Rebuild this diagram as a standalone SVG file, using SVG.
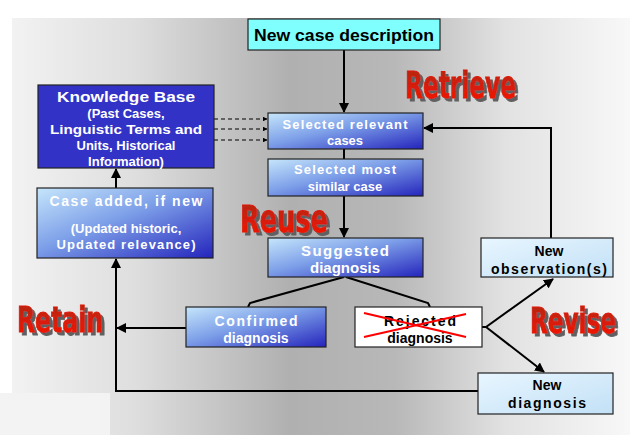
<svg xmlns="http://www.w3.org/2000/svg" width="636" height="435" viewBox="0 0 636 435">
<defs>
<linearGradient id="bg" x1="0" y1="0" x2="1" y2="0">
<stop offset="0" stop-color="#f2f2f2"/>
<stop offset="0.2" stop-color="#dedede"/>
<stop offset="0.45" stop-color="#b0b0b0"/>
<stop offset="0.62" stop-color="#b8b8b8"/>
<stop offset="0.8" stop-color="#e2e2e2"/>
<stop offset="1" stop-color="#f8f8f8"/>
</linearGradient>
<linearGradient id="blue" x1="0" y1="0" x2="1" y2="1">
<stop offset="0" stop-color="#c6e6fb"/>
<stop offset="0.45" stop-color="#7c9ee8"/>
<stop offset="1" stop-color="#2424bc"/>
</linearGradient>
<linearGradient id="light" x1="0" y1="0" x2="1" y2="1">
<stop offset="0" stop-color="#e8f6ff"/>
<stop offset="1" stop-color="#c2e0f6"/>
</linearGradient>
<linearGradient id="red" x1="0" y1="0" x2="0" y2="1">
<stop offset="0" stop-color="#a82a12"/>
<stop offset="1" stop-color="#ff1200"/>
</linearGradient>
<filter id="shadow" x="-10%" y="-20%" width="130%" height="150%">
<feOffset in="SourceAlpha" dx="3" dy="3" result="o"/>
<feFlood flood-color="#606060"/>
<feComposite in2="o" operator="in" result="s"/>
<feMerge><feMergeNode in="s"/><feMergeNode in="SourceGraphic"/></feMerge>
</filter>
<marker id="arr" viewBox="0 0 10 10" refX="9" refY="5" markerWidth="5" markerHeight="5" orient="auto">
<path d="M0,0 L10,5 L0,10 z" fill="#000"/>
</marker>
<marker id="arrs" viewBox="0 0 10 10" refX="9" refY="5" markerWidth="4" markerHeight="4" orient="auto">
<path d="M0,0 L10,5 L0,10 z" fill="#000"/>
</marker>
</defs>
<style>
.box{stroke:#222;stroke-width:1.2}
.wt{font-family:"Liberation Sans",Arial,sans-serif;font-weight:bold;fill:#fff;text-anchor:middle}
.bt{font-family:"Liberation Sans",Arial,sans-serif;font-weight:bold;fill:#000;text-anchor:middle}
.stage{font-family:"Liberation Sans Narrow","DejaVu Sans Condensed",sans-serif;font-weight:bold;fill:url(#red);stroke:#e01808;stroke-width:0.8;filter:url(#shadow)}
.con{fill:none;stroke:#000;stroke-width:2}
.dash{fill:none;stroke:#000;stroke-width:1.2;stroke-dasharray:4,3}
</style>
<rect x="0" y="0" width="636" height="435" fill="#fff"/>
<rect x="12" y="18" width="618" height="417" fill="url(#bg)"/>
<rect x="0" y="393" width="110" height="42" fill="#f3f3f3"/>

<g id="connectors">
<line class="con" x1="344" y1="50" x2="344" y2="112" marker-end="url(#arr)"/>
<line class="con" x1="344" y1="149" x2="344" y2="159"/>
<line class="con" x1="344" y1="196" x2="344" y2="237" marker-end="url(#arr)"/>
<line class="dash" x1="214" y1="119" x2="267" y2="119" marker-end="url(#arrs)"/>
<line class="dash" x1="214" y1="129" x2="267" y2="129" marker-end="url(#arrs)"/>
<line class="dash" x1="214" y1="140" x2="267" y2="140" marker-end="url(#arrs)"/>
<polyline class="con" points="344,277 250,303 248,307"/>
<polyline class="con" points="346,277 428,303 430,307"/>
<line class="con" x1="186" y1="328" x2="117" y2="328" marker-end="url(#arr)"/>
<polyline class="con" points="478,391 116,391 116,259" marker-end="url(#arr)"/>
<line class="con" x1="116" y1="188" x2="116" y2="169" marker-end="url(#arr)"/>
<polyline class="con" points="482,327 486,327 553,279" marker-end="url(#arr)"/>
<line class="con" x1="486" y1="327" x2="544" y2="372" marker-end="url(#arr)"/>
<polyline class="con" points="551,238 551,128 424,128" marker-end="url(#arr)"/>
</g>

<g id="new-case">
<rect class="box" x="248" y="19" width="192" height="31" fill="#80ffff"/>
<text class="bt" x="344" y="41" font-size="17" textLength="180" lengthAdjust="spacingAndGlyphs">New case description</text>
</g>

<g id="knowledge-base">
<rect class="box" x="38" y="85" width="176" height="83" fill="#3232c6"/>
<text class="wt" x="126" y="102" font-size="14" textLength="138" lengthAdjust="spacingAndGlyphs">Knowledge Base</text>
<text class="wt" x="126" y="118" font-size="13">(Past Cases,</text>
<text class="wt" x="126" y="134" font-size="13" textLength="152" lengthAdjust="spacingAndGlyphs">Linguistic Terms and</text>
<text class="wt" x="126" y="150" font-size="13">Units, Historical</text>
<text class="wt" x="126" y="166" font-size="13">Information)</text>
</g>

<g id="selected-relevant">
<rect class="box" x="268" y="113" width="155" height="36" fill="url(#blue)"/>
<text class="wt" x="345" y="129" font-size="13" textLength="125" lengthAdjust="spacing">Selected relevant</text>
<text class="wt" x="345" y="145" font-size="13">cases</text>
</g>

<g id="selected-most">
<rect class="box" x="268" y="159" width="155" height="37" fill="url(#blue)"/>
<text class="wt" x="345" y="174" font-size="13" textLength="102" lengthAdjust="spacing">Selected most</text>
<text class="wt" x="345" y="191" font-size="13">similar case</text>
</g>

<g id="suggested">
<rect class="box" x="268" y="238" width="155" height="39" fill="url(#blue)"/>
<text class="wt" x="345" y="256" font-size="15" textLength="88" lengthAdjust="spacing">Suggested</text>
<text class="wt" x="345" y="273" font-size="15">diagnosis</text>
</g>

<g id="case-added">
<rect class="box" x="37" y="188" width="176" height="70" fill="url(#blue)"/>
<text class="wt" x="126" y="206" font-size="14" textLength="153" lengthAdjust="spacing">Case added, if new</text>
<text class="wt" x="126" y="233" font-size="13">(Updated historic,</text>
<text class="wt" x="126" y="249" font-size="13" textLength="139" lengthAdjust="spacing">Updated relevance)</text>
</g>

<g id="confirmed">
<rect class="box" x="186" y="307" width="140" height="40" fill="url(#blue)"/>
<text class="wt" x="256" y="326" font-size="14" textLength="83" lengthAdjust="spacing">Confirmed</text>
<text class="wt" x="256" y="343" font-size="14">diagnosis</text>
</g>

<g id="rejected">
<rect class="box" x="355" y="307" width="127" height="40" fill="#fff"/>
<text class="bt" x="420" y="326" font-size="14" textLength="72" lengthAdjust="spacing">Rejected</text>
<text class="bt" x="420" y="343" font-size="14">diagnosis</text>
<line x1="364" y1="313" x2="466" y2="337" stroke="#ff0000" stroke-width="2"/>
<line x1="364" y1="337" x2="466" y2="314" stroke="#ff0000" stroke-width="2"/>
</g>

<g id="new-observation">
<rect class="box" x="481" y="238" width="132" height="39" fill="url(#light)"/>
<text class="bt" x="549" y="256" font-size="14">New</text>
<text class="bt" x="549" y="274" font-size="14" textLength="116" lengthAdjust="spacing">observation(s)</text>
</g>

<g id="new-diagnosis">
<rect class="box" x="478" y="373" width="135" height="41" fill="url(#light)"/>
<text class="bt" x="547" y="390" font-size="14">New</text>
<text class="bt" x="547" y="408" font-size="14" textLength="78" lengthAdjust="spacing">diagnosis</text>
</g>

<g id="stage-labels">
<text class="stage" x="405" y="98" font-size="38" textLength="111" lengthAdjust="spacingAndGlyphs">Retrieve</text>
<text class="stage" x="240" y="232" font-size="38" textLength="88" lengthAdjust="spacingAndGlyphs">Reuse</text>
<text class="stage" x="17" y="332" font-size="36" textLength="86" lengthAdjust="spacingAndGlyphs">Retain</text>
<text class="stage" x="530" y="333" font-size="36" textLength="86" lengthAdjust="spacingAndGlyphs">Revise</text>
</g>
</svg>
